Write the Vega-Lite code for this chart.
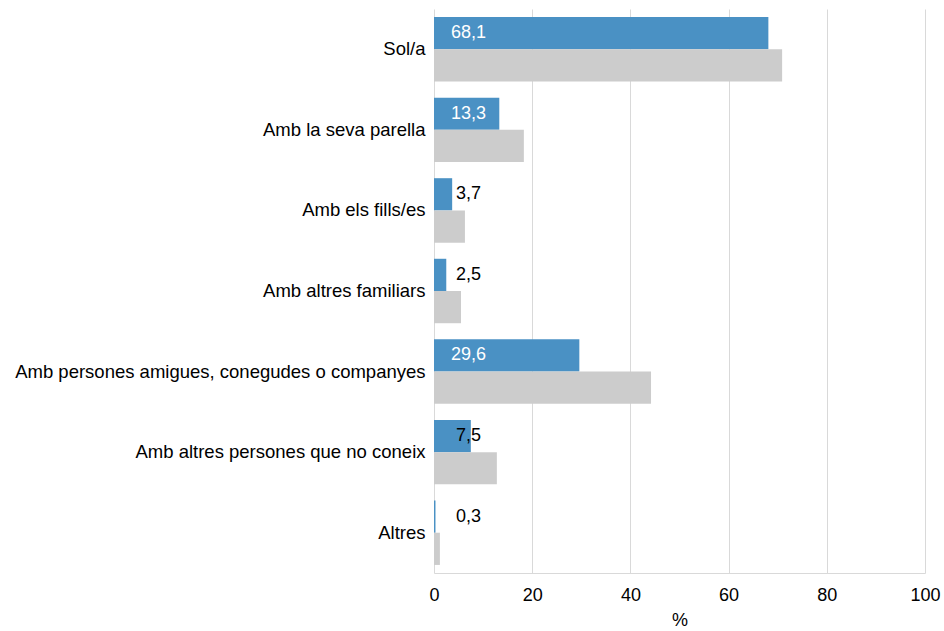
{
  "$schema": "https://vega.github.io/schema/vega-lite/v6.json",
  "autosize": {"type": "none"},
  "padding": {"left": 434, "top": 9, "right": 19, "bottom": 58},
  "width": 491,
  "height": 564,
  "background": "white",
  "config": {
    "font": "Liberation Sans",
    "view": {"stroke": null},
    "locale": {"number": {"decimal": ",", "thousands": ".", "grouping": [3], "currency": ["", " €"]}},
    "axis": {"labelFont": "Liberation Sans", "titleFont": "Liberation Sans", "labelColor": "#000000", "titleColor": "#000000"}
  },
  "data": {
    "values": [
      {"cat": "Sol/a", "serie": "Grup", "val": 68.1},
      {"cat": "Sol/a", "serie": "Total", "val": 70.9},
      {"cat": "Amb la seva parella", "serie": "Grup", "val": 13.3},
      {"cat": "Amb la seva parella", "serie": "Total", "val": 18.3},
      {"cat": "Amb els fills/es", "serie": "Grup", "val": 3.7},
      {"cat": "Amb els fills/es", "serie": "Total", "val": 6.3},
      {"cat": "Amb altres familiars", "serie": "Grup", "val": 2.5},
      {"cat": "Amb altres familiars", "serie": "Total", "val": 5.5},
      {"cat": "Amb persones amigues, conegudes o companyes", "serie": "Grup", "val": 29.6},
      {"cat": "Amb persones amigues, conegudes o companyes", "serie": "Total", "val": 44.2},
      {"cat": "Amb altres persones que no coneix", "serie": "Grup", "val": 7.5},
      {"cat": "Amb altres persones que no coneix", "serie": "Total", "val": 12.8},
      {"cat": "Altres", "serie": "Grup", "val": 0.3},
      {"cat": "Altres", "serie": "Total", "val": 1.2}
    ]
  },
  "encoding": {
    "y": {
      "field": "cat", "type": "nominal", "sort": null,
      "scale": {"paddingInner": 0.2, "paddingOuter": 0.1},
      "axis": {"title": null, "ticks": false, "domain": false, "labelFontSize": 18.5, "labelPadding": 9, "labelLimit": 0}
    },
    "yOffset": {"field": "serie", "type": "nominal", "sort": ["Grup", "Total"]}
  },
  "layer": [
    {
      "mark": {"type": "bar"},
      "encoding": {
        "x": {
          "field": "val", "type": "quantitative",
          "scale": {"domain": [0, 100], "nice": false},
          "axis": {"title": "%", "values": [0, 20, 40, 60, 80, 100], "ticks": false, "labelFlush": false, "domainColor": "#d9d9d9", "gridColor": "#d9d9d9", "labelFontSize": 18, "labelPadding": 13, "titleFontSize": 18, "titleFontWeight": "normal", "titlePadding": 7}
        },
        "color": {
          "field": "serie", "type": "nominal",
          "scale": {"domain": ["Grup", "Total"], "range": ["#4a91c4", "#cccccc"]},
          "legend": null
        }
      }
    },
    {
      "transform": [{"filter": "datum.serie == 'Grup' && datum.val > 10"}],
      "mark": {"type": "text", "align": "left", "baseline": "middle", "dx": 17, "fontSize": 18, "color": "#ffffff"},
      "encoding": {
        "x": {"datum": 0, "type": "quantitative"},
        "text": {"field": "val", "type": "quantitative", "format": ".1f"}
      }
    },
    {
      "transform": [{"filter": "datum.serie == 'Grup' && datum.val <= 10"}],
      "mark": {"type": "text", "align": "left", "baseline": "middle", "dx": 22, "fontSize": 18, "color": "#000000"},
      "encoding": {
        "x": {"datum": 0, "type": "quantitative"},
        "text": {"field": "val", "type": "quantitative", "format": ".1f"}
      }
    }
  ]
}
